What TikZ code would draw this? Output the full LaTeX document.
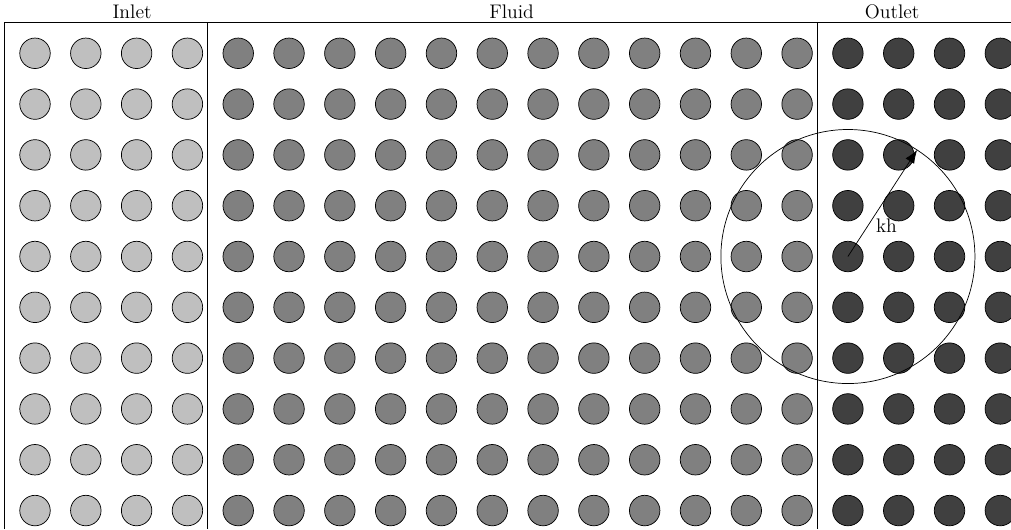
\documentclass[tikz,border=0pt]{standalone}
\usepackage{tikz}
\usetikzlibrary{arrows.meta}

\begin{document}
\begin{tikzpicture}[
        font=\fontsize{11}{13}\selectfont,
        particle/.style={draw, circle, minimum size=0.6cm, inner sep=0pt, thin},
        inletpt/.style={particle, fill=lightgray},
        fluidpt/.style={particle, fill=gray},
        outletpt/.style={particle, fill=darkgray},
        zone/.style={anchor=base},
        arr/.style={-{Latex[length=2.6mm, width=2mm]}}
    ]
    \useasboundingbox (-0.689,-9.364) rectangle (19.21,1.049);

    % Particles
    \foreach \j in {0,...,9} {
        \foreach \i in {0,...,3}   {\node[inletpt]  (c-\i-\j) at (\i,-\j) {};}
        \foreach \i in {4,...,15}  {\node[fluidpt]  (c-\i-\j) at (\i,-\j) {};}
        \foreach \i in {16,...,19} {\node[outletpt] (c-\i-\j) at (\i,-\j) {};}
    }

    % Zone boundaries
    \draw (-0.6,-9.364) -- (-0.6,0.6) -- (19.21,0.6);
    \draw (3.4,0.6) -- (3.4,-9.364);
    \draw (15.4,0.6) -- (15.4,-9.364);

    % Zone labels
    \node[zone] (inlet)  at (1.91,0.675)  {Inlet};
    \node[zone] (fluid)  at (9.38,0.675)  {Fluid};
    \node[zone] (outlet) at (16.87,0.675) {Outlet};

    % Kernel support
    \draw (c-16-4.center) circle (2.5);
    \path (c-16-4.center) ++(57:2.5) coordinate (rim);
    \draw[arr] (c-16-4.center) -- (rim) node[pos=0.29, right=1pt] (kh) {kh};

\end{tikzpicture}
\end{document}
